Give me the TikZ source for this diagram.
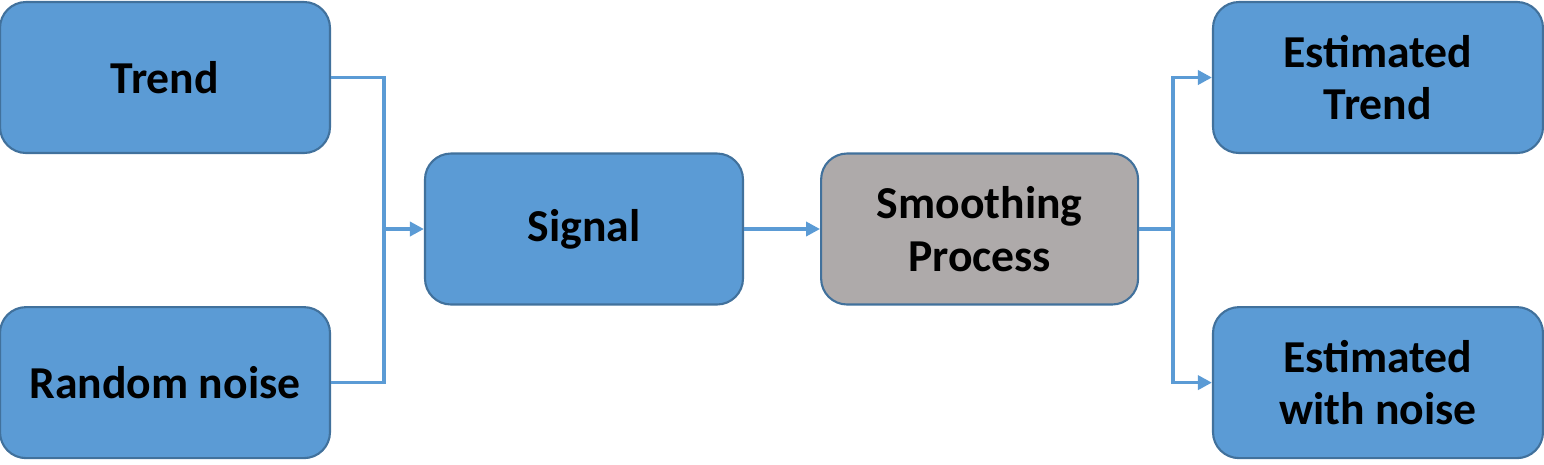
\documentclass[tikz,border=0pt]{standalone}
\usepackage{fontspec}
\setmainfont{Carlito}
\usepackage{xcolor}
\usepackage{tikz}
\usetikzlibrary{positioning, arrows.meta, calc}
\definecolor{boxblue}{HTML}{5B9BD5}
\definecolor{edgeblue}{HTML}{41719C}
\definecolor{boxgray}{HTML}{AEAAAA}

\tikzset{
  stage/.style={fill=boxblue, draw=edgeblue, line width=0.6pt, rounded corners=0.26cm,
                minimum width=3.3cm, minimum height=1.51cm, inner sep=0pt,
                align=center, font=\fontsize{13}{15}\selectfont\bfseries},
  link/.style={draw=boxblue, line width=1pt},
  flow/.style={link, -{Triangle[length=0.14cm, width=0.14cm]}}
}

\begin{document}
\begin{tikzpicture}
  \useasboundingbox (0,0) rectangle (15.44,-4.64);

  % inputs
  \node[stage] (trend) at (1.65,-0.775) {Trend};
  \node[stage, below=1.52cm of trend] (noise) {Random noise};

  % middle of the chain
  \node[stage, minimum width=3.18cm] (signal) at (5.84,-2.29) {Signal};
  \node[stage, minimum width=3.17cm, fill=boxgray, right=0.76cm of signal] (smooth) {Smoothing\\Process};

  % outputs
  \node[stage] (esttrend) at (13.78,-0.775) {Estimated\\Trend};
  \node[stage, below=1.52cm of esttrend] (estnoise) {Estimated\\with noise};

  \coordinate (jl) at (3.84,-2.29);
  \coordinate (jr) at (11.73,-2.29);

  \draw[link] (trend.east) -| (jl);
  \draw[link] (noise.east) -| (jl);
  \draw[flow] (jl) -- (signal.west);
  \draw[flow] (signal) -- (smooth);
  \draw[link] (smooth.east) -- (jr);
  \draw[flow] (jr) |- (esttrend.west);
  \draw[flow] (jr) |- (estnoise.west);
\end{tikzpicture}
\end{document}
